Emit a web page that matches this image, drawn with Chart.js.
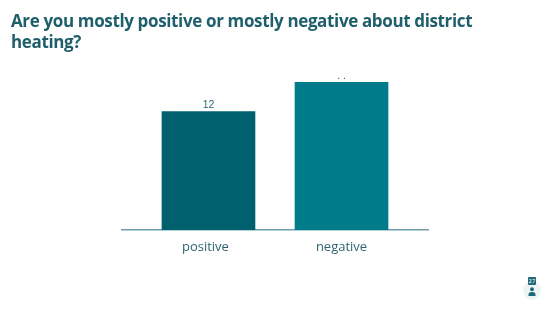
<!DOCTYPE html>
<html>
<head>
<meta charset="utf-8">
<title>District heating</title>
<script src="https://cdn.jsdelivr.net/npm/chart.js@4/dist/chart.umd.min.js"></script>
<style>
    html, body { margin: 0; padding: 0; background: #fff; }
    body { width: 550px; height: 309px; position: relative; overflow: hidden; font-family: "Open Sans", sans-serif; }
    #chart-box { position: absolute; left: 0; top: 0; width: 550px; height: 309px; }
    h1 { position: absolute; left: 11px; top: 10px; width: 500px; margin: 0; font-size: 17px; line-height: 21px; letter-spacing: -0.36px; font-weight: 700; color: #1f5f6b; }
    #badge { position: absolute; left: 523px; top: 281px; width: 18px; height: 19px; border-radius: 9px; background: #eef3f4; }
    #count { position: absolute; left: 528px; top: 277px; width: 8px; height: 8px; line-height: 8px; border-radius: 1px; background: #1f6a78; color: #fff; font-size: 6px; text-align: center; }
    #person { position: absolute; left: 5px; top: 6px; }
</style>
</head>
<body>
<div id="chart-box"><canvas id="opinion-chart"></canvas></div>
<h1>Are you mostly positive or mostly negative about district<br>heating?</h1>
<div id="badge">
    <svg id="person" width="8" height="9" viewBox="0 0 8 9"><circle cx="4" cy="2.2" r="2" fill="#1f6a78"/><path d="M0.5 9V7a3 3 0 0 1 3-2h1a3 3 0 0 1 3 2v2z" fill="#1f6a78"/></svg>
</div>
<div id="count">27</div>
<script>
const categories = ["positive", "negative"];
const answers = [12, 15];
const barColors = ["#00606e", "#007b8a"];
const barLabels = ["12", ". ."];
const tickPositions = [0.977, 2];

// Draws the number above each bar
const barLabelPlugin = {
    id: "barLabels",
    afterDatasetsDraw(chart) {
        const ctx = chart.ctx;
        const bars = chart.getDatasetMeta(0).data;
        ctx.save();
        ctx.fillStyle = "#2f6570";
        ctx.font = "10.5px 'Liberation Sans', sans-serif";
        ctx.textAlign = "center";
        ctx.textBaseline = "bottom";
        bars.forEach((bar, i) => {
            ctx.fillText(barLabels[i], bar.x, bar.y - 1);
        });
        ctx.restore();
    },
};

document.addEventListener("DOMContentLoaded", () => {
    const ctx = document.getElementById("opinion-chart").getContext("2d");
    new Chart(ctx, {
        type: "bar",
        data: {
            datasets: [
                {
                    data: answers.map((value, i) => ({ x: i + 1, y: value })),
                    backgroundColor: barColors,
                    barThickness: 93,
                },
            ],
        },
        options: {
            responsive: true,
            maintainAspectRatio: false,
            animation: false,
            layout: { padding: { left: 122, right: 122, top: 82, bottom: 0 } },
            plugins: { legend: { display: false }, tooltip: { enabled: false } },
            scales: {
                // linear so the axis line can run past the two bars
                x: {
                    type: "linear",
                    offset: false,
                    min: 0.35,
                    max: 2.65,
                    afterBuildTicks(scale) {
                        scale.ticks = tickPositions.map((value) => ({ value: value }));
                    },
                    afterFit(scale) { scale.height = 79; },
                    grid: { display: false },
                    border: { color: "#6f9faa", width: 1.5 },
                    ticks: {
                        color: "#2f6570",
                        padding: 1,
                        font: { family: "'Open Sans'", size: 13 },
                        callback: (value, index) => categories[index],
                    },
                },
                y: { display: false, min: 0, max: 15 },
            },
        },
        plugins: [barLabelPlugin],
    });
});
</script>
</body>
</html>
